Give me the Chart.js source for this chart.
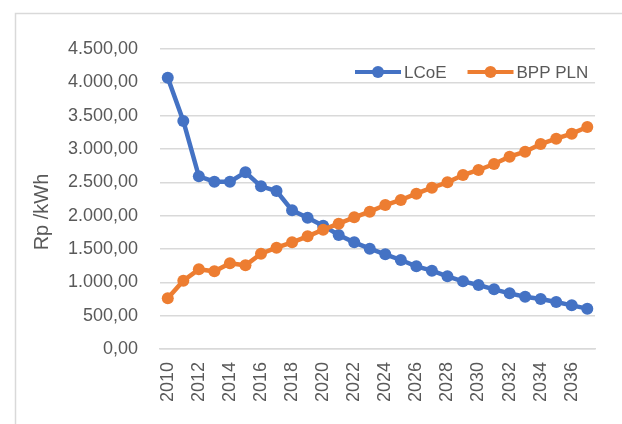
<!DOCTYPE html>
<html>
<head>
<meta charset="utf-8">
<title>LCoE vs BPP PLN</title>
<script src="https://cdn.jsdelivr.net/npm/chart.js@4/dist/chart.umd.min.js"></script>
<style>
  html, body { margin: 0; padding: 0; background: #ffffff; }
  canvas { display: block; }
</style>
</head>
<body>
<canvas id="chart" width="622" height="424"></canvas>
<script>
// Years on the category axis
const years = [2010, 2011, 2012, 2013, 2014, 2015, 2016, 2017, 2018, 2019,
               2020, 2021, 2022, 2023, 2024, 2025, 2026, 2027, 2028, 2029,
               2030, 2031, 2032, 2033, 2034, 2035, 2036, 2037];

// Levelized cost of electricity (Rp/kWh)
const lcoe = [4070, 3420, 2590, 2510, 2510, 2650, 2440, 2370, 2080, 1970,
              1850, 1710, 1600, 1505, 1420, 1335, 1240, 1175, 1090, 1015,
              960, 895, 835, 785, 750, 705, 655, 605];

// PLN generation cost (Rp/kWh)
const bppPln = [760, 1025, 1195, 1165, 1285, 1255, 1430, 1520, 1600, 1690,
                1790, 1880, 1975, 2060, 2160, 2235, 2330, 2420, 2500, 2610,
                2685, 2775, 2885, 2960, 3075, 3155, 3230, 3330];

const seriesNames = ['LCoE', 'BPP PLN'];
const seriesColors = ['#4472C4', '#ED7D31'];
const yAxisTitle = 'Rp /kWh';

// Indonesian number format: 4.500,00
function formatRp(v) {
  const fixed = Number(v).toFixed(2);
  const [intPart, dec] = fixed.split('.');
  return intPart.replace(/\B(?=(\d{3})+(?!\d))/g, '.') + ',' + dec;
}

const textColor = '#595959';
const gridColor = '#d9d9d9';
const fontFamily = "'Liberation Sans', Arial, sans-serif";

// Outer frame of the chart object
const framePlugin = {
  id: 'frame',
  beforeDraw(chart) {
    const ctx = chart.ctx;
    ctx.save();
    ctx.fillStyle = '#ffffff';
    ctx.fillRect(0, 0, chart.width, chart.height);
    ctx.strokeStyle = gridColor;
    ctx.lineWidth = 1.5;
    ctx.strokeRect(15.5, 13.5, chart.width + 40, chart.height + 40);
    ctx.restore();
  }
};

// Vertical axis title
const yTitlePlugin = {
  id: 'yTitle',
  afterDraw(chart) {
    const ctx = chart.ctx;
    ctx.save();
    ctx.translate(42, 212);
    ctx.rotate(-Math.PI / 2);
    ctx.font = '20px ' + fontFamily;
    ctx.fillStyle = textColor;
    ctx.textAlign = 'center';
    ctx.textBaseline = 'middle';
    ctx.fillText(yAxisTitle, 0, 0);
    ctx.restore();
  }
};

// Legend drawn inside the plot area: line + marker, then name
const insideLegendPlugin = {
  id: 'insideLegend',
  afterDatasetsDraw(chart) {
    const ctx = chart.ctx;
    const area = chart.chartArea;
    const y = area.top + 23;
    let x = area.left + 195;
    ctx.save();
    ctx.font = '17px ' + fontFamily;
    ctx.textBaseline = 'middle';
    ctx.textAlign = 'left';
    chart.data.datasets.forEach((ds) => {
      const lineLen = 46;
      ctx.strokeStyle = ds.borderColor;
      ctx.lineWidth = 4;
      ctx.beginPath();
      ctx.moveTo(x, y);
      ctx.lineTo(x + lineLen, y);
      ctx.stroke();
      ctx.fillStyle = ds.pointBackgroundColor;
      ctx.beginPath();
      ctx.arc(x + lineLen / 2, y, 6, 0, Math.PI * 2);
      ctx.fill();
      ctx.fillStyle = textColor;
      ctx.fillText(ds.label, x + lineLen + 3, y + 1);
      x += lineLen + 3 + ctx.measureText(ds.label).width + 21;
    });
    ctx.restore();
  }
};

Chart.defaults.font.family = fontFamily;

new Chart(document.getElementById('chart'), {
  type: 'line',
  data: {
    labels: years,
    datasets: [
      {
        label: seriesNames[0],
        data: lcoe,
        borderColor: seriesColors[0],
        backgroundColor: seriesColors[0],
        pointBackgroundColor: seriesColors[0],
        pointBorderColor: seriesColors[0],
        borderWidth: 4.5,
        pointRadius: 6,
        pointBorderWidth: 0,
        tension: 0,
        order: 1
      },
      {
        label: seriesNames[1],
        data: bppPln,
        borderColor: seriesColors[1],
        backgroundColor: seriesColors[1],
        pointBackgroundColor: seriesColors[1],
        pointBorderColor: seriesColors[1],
        borderWidth: 4.5,
        pointRadius: 6,
        pointBorderWidth: 0,
        tension: 0,
        order: 0
      }
    ]
  },
  options: {
    responsive: false,
    devicePixelRatio: 1,
    animation: false,
    layout: { padding: { top: 49, right: 2, left: 0, bottom: 0 } },
    plugins: {
      legend: { display: false },
      tooltip: { enabled: false }
    },
    scales: {
      x: {
        type: 'category',
        offset: true,
        grid: { display: false, drawTicks: false },
        border: { display: true, color: gridColor, width: 1.5 },
        ticks: {
          autoSkip: false,
          minRotation: 90,
          maxRotation: 90,
          padding: 13,
          color: textColor,
          font: { size: 18 },
          callback: (value, index) => (index % 2 === 0 ? String(years[index]) : '')
        },
        afterFit(scale) { scale.height = 75; }
      },
      y: {
        min: 0,
        max: 4500,
        grid: { color: gridColor, lineWidth: 1.5, drawTicks: false },
        border: { display: false },
        ticks: {
          stepSize: 500,
          padding: 22,
          color: textColor,
          font: { size: 18 },
          callback: (value) => formatRp(value)
        },
        afterFit(scale) { scale.width = 160; }
      }
    }
  },
  plugins: [framePlugin, yTitlePlugin, insideLegendPlugin]
});
</script>
</body>
</html>
